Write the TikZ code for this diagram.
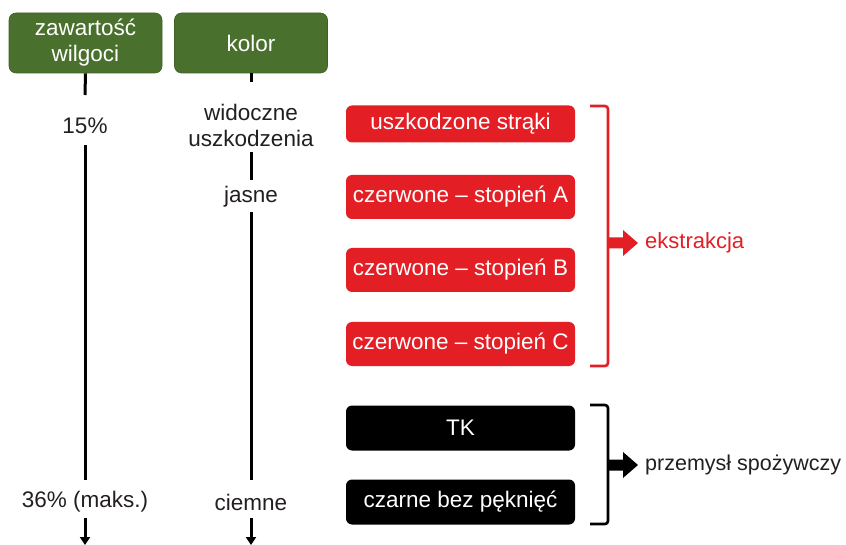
\documentclass[tikz,border=0pt]{standalone}
\usepackage{fontspec}
\setmainfont{Liberation Sans}
\usetikzlibrary{arrows.meta}
\definecolor{gr}{RGB}{74,112,46}
\definecolor{rd}{RGB}{227,30,36}
\definecolor{tx}{RGB}{35,31,32}
\begin{document}
\begin{tikzpicture}[x=1pt,y=-1pt,
  txt/.style={font=\fontsize{22.5}{26}\selectfont, align=center, inner sep=0pt, text=tx},
  hbox/.style={draw=gr!85!black, line width=0.6pt, fill=gr, rounded corners=7pt, minimum width=153pt, minimum height=60pt, text=white, font=\fontsize{22.5}{26}\selectfont, align=center, inner sep=0pt},
  rbox/.style={fill=rd, rounded corners=6pt, minimum width=229pt, text=white, font=\fontsize{22.5}{26}\selectfont, inner sep=0pt},
  kbox/.style={fill=black, rounded corners=6pt, minimum width=229pt, minimum height=45pt, text=white, font=\fontsize{22.5}{26}\selectfont, inner sep=0pt},
  axis/.style={line width=3pt},
  brk/.style={line width=2.6pt, rounded corners=3pt},
]
\useasboundingbox (0,0) rectangle (846,545);

% header boxes
\node[hbox] (g1) at (85.5,43) {zawartość\\wilgoci};
\node[hbox] (g2) at (251,43) {kolor};

% left axis texts
\node[txt] (t15) at (85,126) {15\%};
\node[txt] (t36) at (85,502) {36\% (maks.)};
% right axis texts
\node[txt] (tw) at (251,125) {widoczne\\uszkodzenia};
\node[txt] (tj) at (251,197) {jasne};
\node[txt] (tc) at (251,502) {ciemne};

% axis coordinates
\coordinate (l1) at (85,95);
\coordinate (l2) at (85,145);
\coordinate (l3) at (85,480);
\coordinate (l4) at (85,518);
\coordinate (l5) at (85,545);
\coordinate (r1) at (251,82);
\coordinate (r2) at (251,152);
\coordinate (r3) at (251,180);
\coordinate (r4) at (251,212);
\coordinate (r5) at (251,480);
\coordinate (r6) at (251,518);
\coordinate (r7) at (251,545);

\draw[axis] (g1.south) -- (l1);
\draw[axis] (l2) -- (l3);
\draw[axis,-{Triangle[length=8pt,width=10pt]}] (l4) -- (l5);
\draw[axis] (g2.south) -- (r1);
\draw[axis] (r2) -- (r3);
\draw[axis] (r4) -- (r5);
\draw[axis,-{Triangle[length=8pt,width=10pt]}] (r6) -- (r7);

% red boxes
\node[rbox, minimum height=37pt] (b1) at (460.5,124) {uszkodzone strąki};
\node[rbox, minimum height=44pt] (b2) at (460.5,197) {czerwone – stopień A};
\node[rbox, minimum height=44pt] (b3) at (460.5,270) {czerwone – stopień B};
\node[rbox, minimum height=44pt] (b4) at (460.5,344) {czerwone – stopień C};
% black boxes
\node[kbox] (k1) at (460.5,428) {TK};
\node[kbox] (k2) at (460.5,502) {czarne bez pęknięć};

% red bracket
\coordinate (rb1) at (590,106);
\coordinate (rb2) at (608,106);
\coordinate (rb3) at (608,366);
\coordinate (rb4) at (590,366);
\draw[brk, rd] (rb1) -- (rb2) -- (rb3) -- (rb4);
\node[txt, text=rd, anchor=west, font=\fontsize{22}{26}\selectfont] (ek) at (645,243) {ekstrakcja};
\fill[rd] (608,237.5) -- (623,237.5) -- (623,230) -- (638,243) -- (623,256) -- (623,248.5) -- (608,248.5) -- cycle;

% black bracket
\coordinate (kb1) at (590,405);
\coordinate (kb2) at (608,405);
\coordinate (kb3) at (608,524);
\coordinate (kb4) at (590,524);
\draw[brk] (kb1) -- (kb2) -- (kb3) -- (kb4);
\node[txt, anchor=west, font=\fontsize{21.5}{26}\selectfont] (ps) at (645,465) {przemysł spożywczy};
\fill (608,459.5) -- (623,459.5) -- (623,452) -- (638,465) -- (623,478) -- (623,470.5) -- (608,470.5) -- cycle;
\end{tikzpicture}
\end{document}
